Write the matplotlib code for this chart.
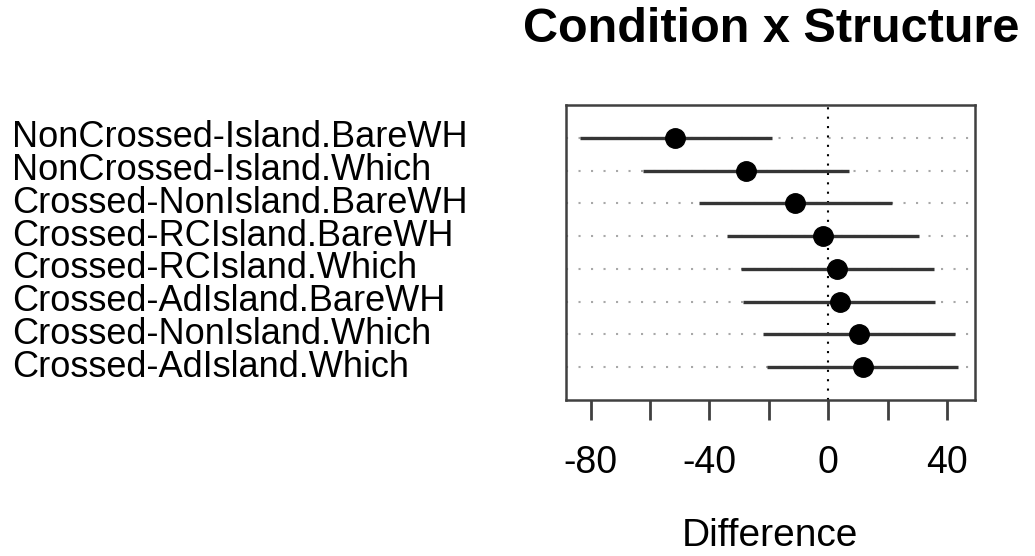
import matplotlib.pyplot as plt
from matplotlib.transforms import blended_transform_factory

plt.rcParams['font.family'] = ['Liberation Sans', 'DejaVu Sans']

# contrasts, top row first
labels = ["NonCrossed-Island.BareWH", "NonCrossed-Island.Which",
          "Crossed-NonIsland.BareWH", "Crossed-RCIsland.BareWH",
          "Crossed-RCIsland.Which", "Crossed-AdIsland.BareWH",
          "Crossed-NonIsland.Which", "Crossed-AdIsland.Which"]
diff = [-51.6, -27.8, -11.2, -1.9, 3.0, 3.9, 10.3, 11.6]
lower = [-83.6, -62.3, -43.5, -34.0, -29.4, -28.6, -21.9, -20.7]
upper = [-19.1, 7.1, 21.3, 30.5, 35.6, 35.9, 42.7, 43.8]

xticks = [-80, -60, -40, -20, 0, 20, 40]
xticklabels = ["-80", "", "-40", "", "0", "", "40"]

W, H = 1035, 556
fig = plt.figure(figsize=(W / 100, H / 100), dpi=100)
ax = fig.add_axes([566 / W, 1 - 400 / H, (975 - 566) / W, (400 - 105) / H])

n = len(labels)
ypos = list(range(n, 0, -1))

for y in ypos:
    ax.axhline(y, color='#a8a8a8', lw=1.5, ls=(0, (1, 5)), zorder=1)
ax.axvline(0, color='black', lw=1.5, ls=(0, (1, 3.5)), zorder=2)

for y, lo, hi in zip(ypos, lower, upper):
    ax.plot([lo, hi], [y, y], color='#353535', lw=2.4, zorder=3,
            solid_capstyle='butt')
ax.plot(diff, ypos, 'o', color='black', markersize=14, zorder=4)

ax.set_xlim(-88.3, 49.4)
ax.set_ylim(0, n + 1)
ax.set_yticks([])
ax.set_xticks(xticks)
ax.set_xticklabels(xticklabels, fontsize=27)
ax.tick_params(axis='x', length=14.5, width=2, color='#404040', pad=18)
for s in ax.spines.values():
    s.set_linewidth(1.8)
    s.set_color('#404040')

trans = blended_transform_factory(fig.transFigure, ax.transData)
for y, lab in zip(ypos, labels):
    ax.text(12 / W, y, lab, transform=trans, ha='left', va='center',
            fontsize=26, clip_on=False)

fig.text(770 / W, 2 / H, "Difference", ha='center', va='bottom',
         fontsize=28)
fig.text(771 / W, 1 - 42 / H, "Condition x Structure", ha='center',
         va='baseline', fontsize=35, fontweight='bold')

fig.savefig("out.png", dpi=100)
